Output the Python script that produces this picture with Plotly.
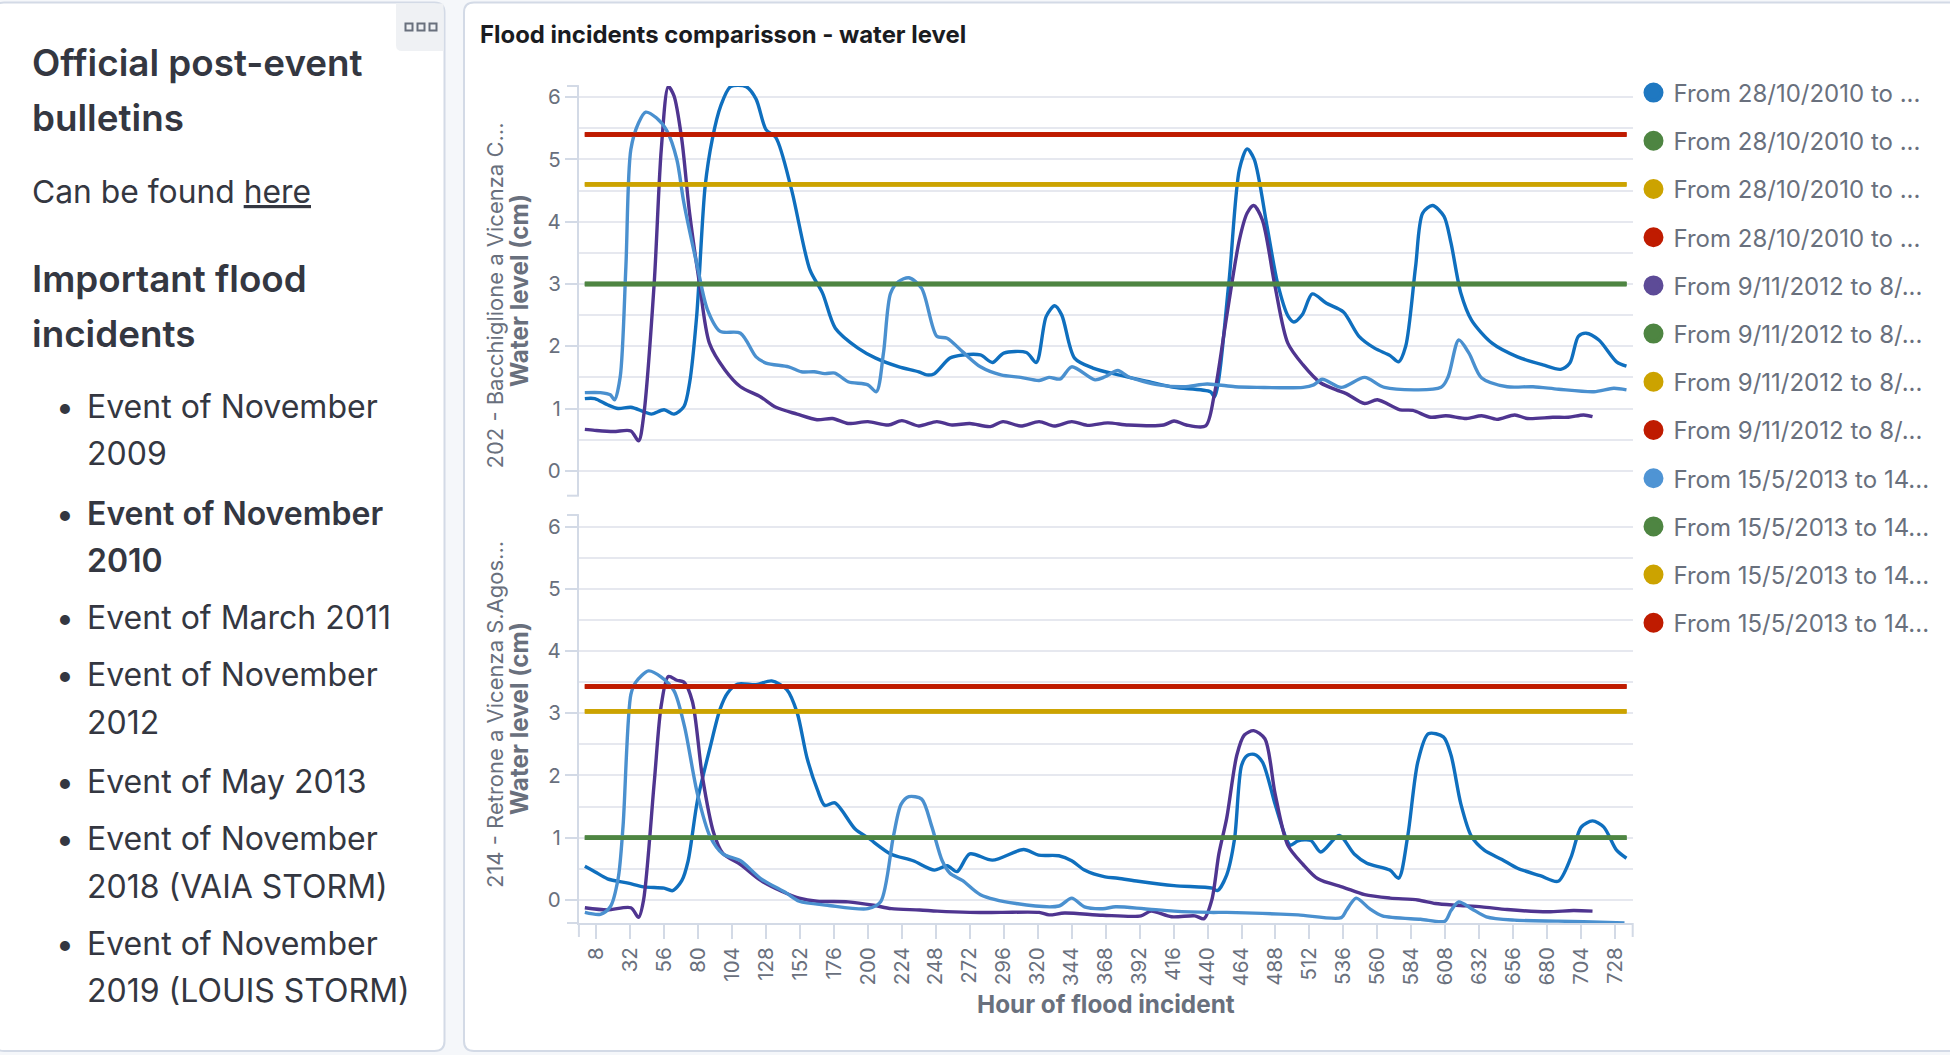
import plotly.graph_objects as go

# ---------- data ----------
top_2010_h = [0,7,16,23.5,32.5,41.5,47,56,63,70,74,79,85,90,96,103,114,121,128,135,146,159,168,177,193,205.5,222,236,241.5,247,258,267,279.5,288,296,312,319,326,332,337,346,359,377,398.5,416.5,442,445,455,462.5,468,473,482,489.5,497,501,507,514,524,536,547,558,569,575,580,587,592,599,607,612,619,626.5,641,659,677,689.5,696,702,707.5,716.5,729,736]
top_2010_v = [1.16,1.16,1.06,1.0,1.02,.95,.91,.98,.91,1.03,1.41,2.48,4.57,5.32,5.86,6.17,6.17,5.97,5.48,5.35,4.52,3.23,2.85,2.29,1.97,1.81,1.67,1.59,1.54,1.56,1.81,1.86,1.86,1.74,1.89,1.90,1.74,2.48,2.65,2.5,1.81,1.65,1.54,1.43,1.34,1.27,1.19,3.01,4.84,5.17,5.0,3.93,3.01,2.48,2.39,2.51,2.84,2.69,2.55,2.16,1.97,1.85,1.75,2.0,3.28,4.14,4.26,4.09,3.66,2.85,2.42,2.05,1.83,1.70,1.63,1.73,2.16,2.21,2.10,1.75,1.68]

top_2012_h = [0,7,20,32.5,38,41.5,49,54,59,63,68.5,74,81,88,99,110,124,135,150,164,175,186,200,214.5,224,236,248.7,259.5,272,286.5,295.5,308,321,331.6,344,355,369.5,384,409,416.3,425,438.6,444.5,453.5,462.5,468,472.6,478.7,487.7,496.7,507.5,520,531,538,551,560,576,585,597.8,608.4,623,633.7,644.5,657,666,684,695,705.7,712]
top_2012_v = [.665,.65,.63,.64,.48,.87,3.01,5.16,6.17,6.02,5.32,4.14,3.01,2.05,1.62,1.35,1.19,1.02,.91,.82,.84,.76,.79,.735,.805,.72,.79,.735,.76,.71,.79,.72,.79,.72,.79,.73,.77,.735,.735,.80,.735,.72,1.19,2.48,3.71,4.14,4.26,4.03,2.96,2.05,1.70,1.41,1.30,1.24,1.08,1.14,.98,.97,.86,.885,.84,.885,.826,.896,.84,.86,.86,.896,.87]

top_2013_h = [0,11,18,21,25,29,32.5,38,43,50.5,58,65,70,79.5,86.6,95.6,110,121,128,144,153,162,169.5,176.7,186,200,206,211,216,221.7,229,238,248.7,256,267,279.5,294,308,321,328,336,344,360.5,367.6,376.6,384,405.5,423.5,439.7,459.5,475,507.5,515,521,534.5,551,565,605,610,617.5,624.7,633.7,651.7,670,688,713,727,736]
top_2013_v = [1.255,1.255,1.22,1.14,1.51,3.28,5.16,5.59,5.76,5.67,5.46,5.0,4.3,3.28,2.59,2.24,2.21,1.83,1.73,1.67,1.59,1.59,1.56,1.57,1.43,1.38,1.27,1.89,2.85,3.04,3.1,2.93,2.16,2.13,1.91,1.67,1.54,1.50,1.45,1.50,1.475,1.67,1.46,1.51,1.61,1.51,1.38,1.35,1.395,1.35,1.34,1.34,1.38,1.47,1.34,1.50,1.34,1.34,1.51,2.10,1.89,1.49,1.35,1.35,1.31,1.27,1.325,1.30]

bot_2010_h = [0,7,16,30.7,41.5,56,62,68.5,73,79.5,88.5,95.6,101,108,121,132,142.7,150,157,164.5,169.5,176.7,191,200,216,232,247,256,263,272,288,310,320.6,335,344,353,367.6,376.6,391,416.3,443.3,447,453.5,459,464,468,473,478.7,487.7,495,498.5,504,513,520,533,543.6,552.6,568.8,575,581.4,588.6,596,606.6,612,619,626.5,635.5,648,659,675,687.7,696.7,704,712,720,729,736]
bot_2010_v = [.54,.455,.34,.27,.21,.19,.15,.31,.63,1.59,2.45,3.07,3.33,3.47,3.46,3.52,3.38,3.01,2.28,1.76,1.52,1.56,1.14,1.0,.74,.63,.48,.55,.455,.74,.64,.81,.72,.71,.63,.48,.37,.35,.30,.23,.19,.15,.40,.97,2.16,2.32,2.34,2.22,1.54,1.02,.88,.95,.955,.77,1.035,.74,.59,.48,.35,1.02,2.22,2.67,2.62,2.33,1.54,1.02,.80,.65,.51,.39,.30,.68,1.17,1.27,1.17,.80,.67]

bot_2012_h = [0,16,32.5,38,41.5,49,54,59,65,70,76,83,91,97.5,110,124.5,139,151.5,164,186,204,216.6,236.6,249,272,294,321,328,339,366,393,400,414.5,431,437.5,443,448,453.5,460.7,466,472.6,480.5,487.7,496.7,507.5,518,536.4,551,569,588.6,601,615.6,633.7,651.7,680.5,698.5,712]
bot_2012_v = [-.125,-.16,-.125,-.28,0,1.88,3.13,3.59,3.53,3.50,3.19,1.99,1.08,.75,.57,.31,.14,.03,-.02,-.03,-.085,-.14,-.16,-.18,-.2,-.2,-.2,-.24,-.21,-.245,-.255,-.18,-.27,-.255,-.30,0,.74,1.31,2.33,2.65,2.72,2.59,1.71,.88,.57,.34,.2,.085,.03,0,-.057,-.085,-.11,-.154,-.19,-.17,-.18]

bot_2013_h = [0,11,18,23.5,27,32.5,36,45,54,63,70.4,79.5,88.5,97.5,110,124.5,142.5,151.5,171.5,200,209,218,223.5,229,238,245,252.5,258,267,279.5,304.7,335,344,353,366,375,395,416.3,441.5,453.5,478.7,504,534.5,538,545,554.5,563.5,590.5,607.7,612,617.5,626.5,637,657,687.7,705.7,734.6]
bot_2013_v = [-.2,-.23,-.11,.34,1.19,3.30,3.50,3.68,3.58,3.36,2.79,1.71,1.02,.74,.63,.34,.11,-.02,-.085,-.14,-.03,1.02,1.54,1.66,1.62,1.19,.63,.43,.31,.085,-.057,-.097,.03,-.11,-.14,-.11,-.14,-.18,-.2,-.2,-.216,-.24,-.284,-.17,.03,-.14,-.256,-.31,-.34,-.17,-.03,-.14,-.27,-.324,-.34,-.35,-.37]

thr_hours = [0, 736]
top_green = [3.0, 3.0]
top_yellow = [4.6, 4.6]
top_red = [5.4, 5.4]
bot_green = [1.0, 1.0]
bot_yellow = [3.03, 3.03]
bot_red = [3.43, 3.43]

y_ticks = [0, 1, 2, 3, 4, 5, 6]
y_half = [0.5, 1.5, 2.5, 3.5, 4.5, 5.5]
x_ticks = list(range(8, 729, 24))

legend_2010 = "From 28/10/2010 to ..."
legend_2012 = "From 9/11/2012 to 8/..."
legend_2013 = "From 15/5/2013 to 14..."

page_heads = ["Official post-event", "bulletins", "Important flood", "incidents"]
page_head_y = [62.5, 117.5, 278, 333]
page_items = ["Event of November", "2009", "Event of November", "2010", "Event of March 2011",
              "Event of November", "2012", "Event of May 2013", "Event of November",
              "2018 (VAIA STORM)", "Event of November", "2019 (LOUIS STORM)"]
page_item_y = [406, 453.5, 513, 560.5, 617.5, 674.5, 722, 781, 838.5, 886, 943, 990.5]
page_item_bold = [False, False, True, True] + [False] * 8
page_bullet_on = [True, False, True, False, True, True, False, True, True, False, True, False]

# ---------- styles ----------
W, H = 1950, 1055
C_2010, C_2012, C_2013 = "#0f6fbe", "#4f3590", "#4a90cf"
L_2010, L_2012, L_2013 = "#1f78c1", "#5d4b97", "#4f94d4"
GREEN, YELLOW, RED = "#4e8542", "#cca300", "#bf1b00"
GRAY = "#69707d"
GRID = "#e6e8ef"
AXIS = "#d3dae6"
INK = "#343741"

X0, X1 = 578.9, 1632.7
TOP = (86, 495.7)
BOT = (515, 923)
HOUR0, HOUR1 = -4.2, 740.4


def xp(px):
    return px / W


def yp(px):
    return 1 - px / H


fig = go.Figure()


def add_lines(xa, ya, h, v, col, wid, shape="spline"):
    fig.add_trace(go.Scatter(
        x=h, y=v, mode="lines", xaxis=xa, yaxis=ya, showlegend=False, hoverinfo="skip",
        line=dict(color=col, width=wid, shape=shape, smoothing=0.8) if shape == "spline"
        else dict(color=col, width=wid)))


panels = [
    ("x2", "y2", [(top_2010_h, top_2010_v, C_2010), (top_2012_h, top_2012_v, C_2012), (top_2013_h, top_2013_v, C_2013)],
     (top_green, top_yellow, top_red)),
    ("x", "y", [(bot_2010_h, bot_2010_v, C_2010), (bot_2012_h, bot_2012_v, C_2012), (bot_2013_h, bot_2013_v, C_2013)],
     (bot_green, bot_yellow, bot_red)),
]
for xa, ya, series, thresholds in panels:
    for h, v, col in series:
        add_lines(xa, ya, h, v, col, 3.4)
        for vals, tc in zip(thresholds, (GREEN, YELLOW, RED)):
            add_lines(xa, ya, thr_hours, vals, tc, 4.4, shape="linear")

# legend entries
for i, (name, col) in enumerate([(legend_2010, L_2010), (legend_2012, L_2012), (legend_2013, L_2013)]):
    for j, c in enumerate((col, GREEN, YELLOW, RED)):
        fig.add_trace(go.Scatter(
            x=[None], y=[None], mode="markers", name=name, legendgroup=f"g{i}{j}",
            marker=dict(color=c, size=16, symbol="circle", line=dict(color=c, width=4)),
            xaxis="x", yaxis="y", hoverinfo="skip"))


def rounded(x0, y0, x1, y1, r):
    return (f"M{xp(x0+r)},{yp(y0)} L{xp(x1-r)},{yp(y0)} Q{xp(x1)},{yp(y0)} {xp(x1)},{yp(y0+r)} "
            f"L{xp(x1)},{yp(y1-r)} Q{xp(x1)},{yp(y1)} {xp(x1-r)},{yp(y1)} "
            f"L{xp(x0+r)},{yp(y1)} Q{xp(x0)},{yp(y1)} {xp(x0)},{yp(y1-r)} "
            f"L{xp(x0)},{yp(y0+r)} Q{xp(x0)},{yp(y0)} {xp(x0+r)},{yp(y0)} Z")


shapes = []
for px0, px1 in [(-6, 444.5), (464, 1960)]:
    shapes.append(dict(type="path", xref="paper", yref="paper", layer="below",
                       path=rounded(px0, 2.5, px1, 1051, 10),
                       fillcolor="#ffffff", line=dict(color=AXIS, width=2)))
# panel menu button
shapes.append(dict(type="path", xref="paper", yref="paper", layer="below",
                   path=f"M{xp(396)},{yp(3.5)} L{xp(443.5)},{yp(3.5)} L{xp(443.5)},{yp(51)} L{xp(402)},{yp(51)} "
                        f"Q{xp(396)},{yp(51)} {xp(396)},{yp(45)} Z",
                   fillcolor="#eff1f4", line=dict(width=0)))
for cx in (409, 421, 433):
    shapes.append(dict(type="rect", xref="paper", yref="paper", x0=xp(cx-3.5), x1=xp(cx+3.5), y0=yp(23.5), y1=yp(30.5),
                       fillcolor="#eff1f4", line=dict(color="#69707d", width=2)))
# end ticks of the axis domains
for py in (TOP[0], TOP[1], BOT[0], BOT[1]):
    shapes.append(dict(type="line", xref="paper", yref="paper", x0=xp(567), x1=xp(X0), y0=yp(py), y1=yp(py),
                       line=dict(color=AXIS, width=2)))
for px in (X0, X1):
    shapes.append(dict(type="line", xref="paper", yref="paper", x0=xp(px), x1=xp(px), y0=yp(BOT[1]), y1=yp(BOT[1]+14),
                       line=dict(color=AXIS, width=2)))

ann = []


def text(px, py, s, size, color=INK, weight=400, family="Inter", angle=0, xanchor="left", yanchor="middle"):
    ann.append(dict(xref="paper", yref="paper", x=xp(px), y=yp(py), text=s, showarrow=False,
                    xanchor=xanchor, yanchor=yanchor, textangle=angle, align="left",
                    font=dict(family=family, size=size, color=color, weight=weight)))


for s, py in zip(page_heads, page_head_y):
    text(30, py, s, 36.8, weight=600)
text(30, 191.5, "Can be found <u>here</u>", 31.8)
for s, py, b, on in zip(page_items, page_item_y, page_item_bold, page_bullet_on):
    text(85, py, s, 32, weight=600 if b else 400)
    if on:
        text(54, py, "•", 31.8)

text(478, 34, "Flood incidents comparisson - water level", 23.9, color="#1a1c21", weight=700)
text(1106, 1004, "Hour of flood incident", 24.3, color=GRAY, weight=700, xanchor="center")
text(495, 295.5, "202 - Bacchiglione a Vicenza C...", 22, color=GRAY, angle=-90, xanchor="center")
text(519, 291, "Water level (cm)", 24.3, color=GRAY, angle=-90, xanchor="center", weight=700)
text(495, 715, "214 - Retrone a Vicenza S.Agos...", 22, color=GRAY, angle=-90, xanchor="center")
text(519, 719, "Water level (cm)", 24.3, color=GRAY, angle=-90, xanchor="center", weight=700)

tickfont = dict(family="Inter", size=20.5, color=GRAY)


def yaxis(dom_px, rng):
    return dict(
        domain=[yp(dom_px[1]), yp(dom_px[0])], range=rng, anchor="x", tickmode="array",
        tickvals=y_ticks, ticktext=[str(t) for t in y_ticks], ticks="outside", ticklen=12, tickwidth=2,
        tickcolor=AXIS, tickfont=tickfont, showgrid=True, gridcolor=GRID, gridwidth=2, zeroline=False,
        showline=True, linecolor=AXIS, linewidth=2,
        minor=dict(tickmode="array", tickvals=y_half, showgrid=True, gridcolor=GRID, gridwidth=2, ticks=""))


fig.update_layout(
    width=W, height=H, margin=dict(l=0, r=0, t=0, b=0, autoexpand=False), paper_bgcolor="#f5f7fa",
    plot_bgcolor="rgba(0,0,0,0)",
    hovermode=False, shapes=shapes, annotations=ann, showlegend=True,
    legend=dict(x=xp(1633.5), y=yp(70.5), xanchor="left", yanchor="top", bgcolor="rgba(0,0,0,0)",
                tracegroupgap=14, font=dict(family="Inter", size=24, color=GRAY), itemclick=False, itemdoubleclick=False),
    xaxis=dict(domain=[xp(X0), xp(X1)], range=[HOUR0, HOUR1], anchor="y", tickmode="array", tickvals=x_ticks,
               ticktext=[str(t) for t in x_ticks], tickangle=-90, ticks="outside", ticklen=14, tickwidth=2,
               tickcolor=AXIS, tickfont=tickfont, showgrid=False, zeroline=False, showline=True,
               linecolor=AXIS, linewidth=2),
    xaxis2=dict(domain=[xp(X0), xp(X1)], range=[HOUR0, HOUR1], anchor="y2", showticklabels=False, ticks="",
                showgrid=False, zeroline=False, showline=False),
    yaxis=yaxis(BOT, [-0.37, 6.185]),
    yaxis2={**yaxis(TOP, [-0.4, 6.18]), "anchor": "x2"},
)

fig.write_html("out.html", config={"displayModeBar": False},
               post_script="document.body.style.margin='0';document.body.style.overflow='hidden';")
